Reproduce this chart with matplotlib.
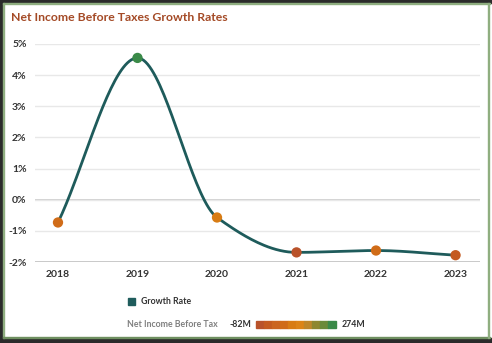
import matplotlib
matplotlib.use("Agg")
import matplotlib.pyplot as plt
import matplotlib.patches as patches
from matplotlib.colors import ListedColormap, Normalize
import numpy as np

# Dane
years = ["2018", "2019", "2020", "2021", "2022", "2023"]
growth = [-0.73, 4.55, -0.57, -1.69, -1.63, -1.78]
income = [40, 274, 75, -82, 30, -20]  # mln
income_min, income_max = -82, 274

scale_colors = ["#b9522a", "#c45a20", "#cb6420", "#d06c18", "#d87c14",
                "#dc8418", "#bf862a", "#8e8630", "#6a8a38", "#3a8a48"]
cmap = ListedColormap(scale_colors)
norm = Normalize(income_min, income_max)

plt.rcParams["font.family"] = ["Lato", "DejaVu Sans"]


# Monotoniczna interpolacja (Fritsch-Carlson) do wygładzenia linii
def monotone_curve(x, y, n=40):
    x = np.asarray(x, float)
    y = np.asarray(y, float)
    h = np.diff(x)
    d = np.diff(y) / h
    m = np.zeros_like(y)
    m[0], m[-1] = d[0], d[-1]
    for i in range(1, len(y) - 1):
        if d[i - 1] * d[i] <= 0:
            m[i] = 0
        else:
            w1 = 2 * h[i] + h[i - 1]
            w2 = h[i] + 2 * h[i - 1]
            m[i] = (w1 + w2) / (w1 / d[i - 1] + w2 / d[i])
    xs, ys = [], []
    for i in range(len(x) - 1):
        t = np.linspace(0, 1, n)
        h00 = 2 * t**3 - 3 * t**2 + 1
        h10 = t**3 - 2 * t**2 + t
        h01 = -2 * t**3 + 3 * t**2
        h11 = t**3 - t**2
        xs.append(x[i] + t * h[i])
        ys.append(h00 * y[i] + h10 * h[i] * m[i] + h01 * y[i + 1] + h11 * h[i] * m[i + 1])
    return np.concatenate(xs), np.concatenate(ys)


fig = plt.figure(figsize=(4.92, 3.43), dpi=100)
ax = fig.add_axes([0.071, 0.236, 0.905, 0.636])

xpos = np.arange(len(years))
cx, cy = monotone_curve(xpos, growth)
ax.plot(cx, cy, color="#1e5b5b", linewidth=2, zorder=3)
ax.scatter(xpos, growth, s=55, c=[cmap(norm(v)) for v in income], zorder=4,
           edgecolors="none")

ax.set_xlim(-0.29, 5.31)
ax.set_ylim(-2, 5)
ax.set_xticks(xpos)
ax.set_xticklabels(years)
ax.set_yticks(range(-2, 6))
ax.set_yticklabels([f"{v}%" for v in range(-2, 6)])
ax.tick_params(length=0, labelsize=7.5, labelcolor="#333333", pad=6)
for lab in ax.get_xticklabels() + ax.get_yticklabels():
    lab.set_fontweight("bold")
ax.grid(axis="y", color="#e8e8e8", linewidth=1)
ax.axhline(0, color="#c8c8c8", linewidth=1.2, zorder=1)
ax.axhline(-2, color="#b8b8b8", linewidth=1.2, zorder=1)
for s in ax.spines.values():
    s.set_visible(False)

fig.text(0.022, 0.948, "Net Income Before Taxes Growth Rates", fontsize=8.8,
         fontweight="bold", color="#a44a26", va="center")

# Legenda
fig.patches.append(patches.Rectangle((128 / 492, 1 - 305 / 343), 7 / 492, 7 / 343,
                                     transform=fig.transFigure, color="#1f5c5c"))
fig.text(141 / 492, 1 - 301.5 / 343, "Growth Rate", fontsize=6.3, fontweight="bold",
         color="#333333", va="center")
fig.text(127 / 492, 1 - 324.5 / 343, "Net Income Before Tax", fontsize=6.3,
         fontweight="bold", color="#808080", va="center")
fig.text(230 / 492, 1 - 324.5 / 343, f"{income_min}M", fontsize=6.3, fontweight="bold",
         color="#333333", va="center")
fig.text(342 / 492, 1 - 324.5 / 343, f"{income_max}M", fontsize=6.3, fontweight="bold",
         color="#333333", va="center")
seg_w = 80 / 492 / len(scale_colors)
for i, c in enumerate(scale_colors):
    fig.patches.append(patches.Rectangle((256 / 492 + i * seg_w, 1 - 328 / 343),
                                         seg_w, 7 / 343, transform=fig.transFigure,
                                         color=c))

# Ramka
def frame_rect(x, y, w, h, color):
    fig.patches.append(patches.Rectangle((x / 492, 1 - (y + h) / 343), w / 492, h / 343,
                                         transform=fig.transFigure, color=color, zorder=10))

frame_rect(0, 0, 492, 3, "#2b2b2b")
frame_rect(0, 0, 2.5, 343, "#2b2b2b")
frame_rect(0, 338, 492, 5, "#2b2b2b")
frame_rect(2.5, 3, 487, 1, "#8fae80")
frame_rect(2.5, 3, 1, 335, "#8fae80")
frame_rect(2.5, 337, 487, 1, "#6f8f60")
frame_rect(487.5, 3, 1.5, 335, "#8fae80")

fig.savefig("out.png", dpi=100)
